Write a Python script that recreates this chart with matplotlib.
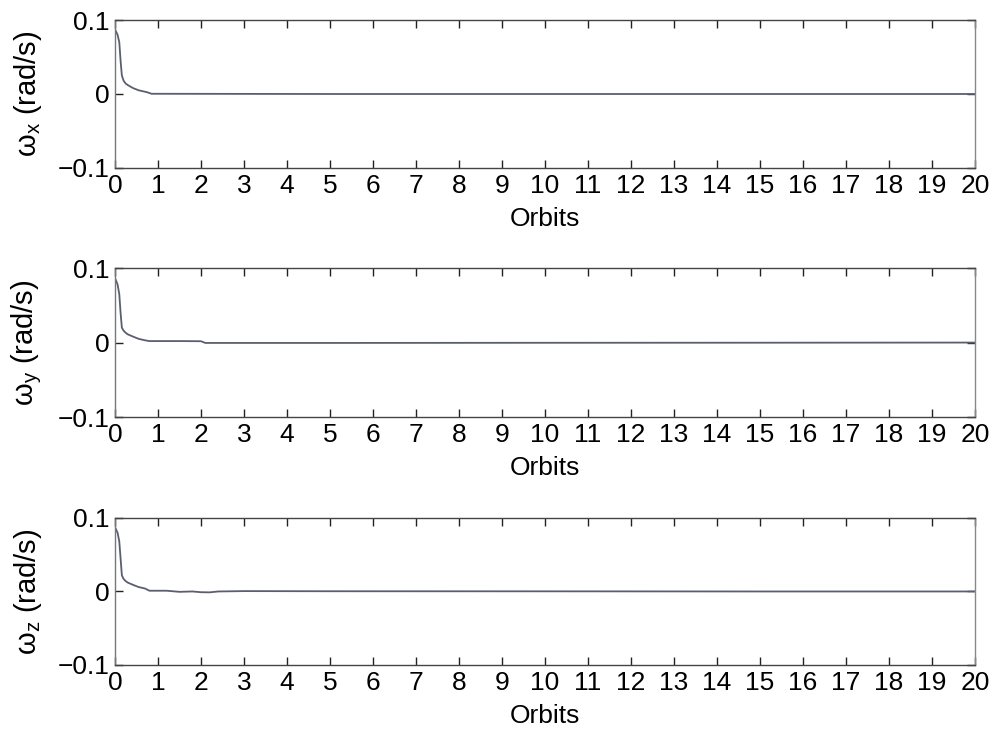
import matplotlib
matplotlib.use("Agg")
import matplotlib.pyplot as plt

plt.rcParams['font.family'] = ['Liberation Sans', 'DejaVu Sans']
plt.rcParams['mathtext.default'] = 'regular'

# Data (orbits vs angular rate, rad/s)
wx_t = [0, 0.02, 0.06, 0.10, 0.13, 0.16, 0.20, 0.25, 0.30, 0.42, 0.55, 0.74, 0.85, 5, 10, 15, 20]
wx_v = [0.087, 0.085, 0.080, 0.070, 0.045, 0.025, 0.018, 0.014, 0.012, 0.008, 0.005, 0.0025, 0.0003, 0.0, 0.0, 0.0, 0.0]

wy_t = [0, 0.02, 0.06, 0.10, 0.13, 0.16, 0.20, 0.25, 0.30, 0.42, 0.55, 0.70, 0.80, 1.5, 2.0, 2.1, 5, 10, 15, 20]
wy_v = [0.086, 0.084, 0.078, 0.065, 0.040, 0.020, 0.016, 0.013, 0.011, 0.008, 0.005, 0.003, 0.002, 0.002, 0.0018, -0.0005, -0.0005, -0.0003, -0.0002, 0.0]

wz_t = [0, 0.02, 0.06, 0.10, 0.13, 0.16, 0.20, 0.25, 0.30, 0.42, 0.55, 0.70, 0.80, 1.2, 1.5, 1.8, 2.0, 2.2, 2.4, 3, 5, 10, 15, 20]
wz_v = [0.087, 0.085, 0.080, 0.068, 0.045, 0.022, 0.017, 0.014, 0.012, 0.009, 0.006, 0.004, 0.001, 0.001, -0.0005, 0.0, -0.001, -0.0012, 0.0, 0.0005, 0.0003, 0.0002, 0.0, 0.0]

series = [(wx_t, wx_v, 'x'), (wy_t, wy_v, 'y'), (wz_t, wz_v, 'z')]
xticks = list(range(0, 21))
yticks = [-0.1, 0, 0.1]
yticklabels = ['\u22120.1', '0', '0.1']

fig = plt.figure(figsize=(9.99, 7.41), dpi=100)
positions = [
    [0.1151, 0.7733, 0.861, 0.1997],
    [0.1151, 0.4372, 0.861, 0.2010],
    [0.1151, 0.1026, 0.861, 0.1984],
]

for pos, (t, v, sub) in zip(positions, series):
    ax = fig.add_axes(pos)
    ax.plot(t, v, color='#5a5e70', lw=1.3)
    ax.set_xlim(0, 20)
    ax.set_ylim(-0.1, 0.1)
    ax.set_xticks(xticks)
    ax.set_xticklabels([str(i) for i in xticks])
    ax.set_yticks(yticks)
    ax.set_yticklabels(yticklabels)
    ax.tick_params(direction='in', top=True, right=True, length=6, width=1,
                   labelsize=19, color='#222222', pad=4)
    ax.spines['left'].set_color('#777777')
    ax.spines['right'].set_color('#888888')
    ax.spines['top'].set_color('#444444')
    ax.spines['bottom'].set_color('#444444')
    for s in ax.spines.values():
        s.set_linewidth(1.0)
    ax.set_xlabel('Orbits', fontsize=19, labelpad=7)
    ax.set_ylabel('\u03c9$_{' + sub + '}$ (rad/s)', fontsize=21, labelpad=10)

fig.savefig('out.png', dpi=100)
